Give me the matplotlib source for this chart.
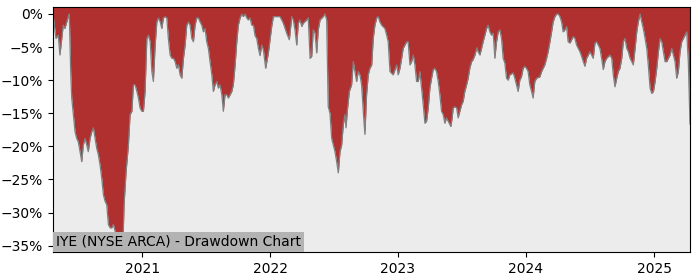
import matplotlib
matplotlib.use("Agg")
import matplotlib.pyplot as plt
import matplotlib.dates as mdates
import matplotlib.ticker as mticker
import pandas as pd

# drawdown: time as decimal year, value in percent
t_year = [
    2020.305, 2020.328, 2020.346, 2020.359, 2020.385, 2020.398, 2020.424, 2020.432,
    2020.443, 2020.451, 2020.477, 2020.490, 2020.502, 2020.516, 2020.529, 2020.541,
    2020.555, 2020.568, 2020.580, 2020.594, 2020.607, 2020.620, 2020.633, 2020.646,
    2020.659, 2020.672, 2020.685, 2020.698, 2020.711, 2020.724, 2020.737, 2020.750,
    2020.763, 2020.776, 2020.789, 2020.802, 2020.815, 2020.828, 2020.841, 2020.849,
    2020.859, 2020.875, 2020.893, 2020.906, 2020.920, 2020.932, 2020.945, 2020.959,
    2020.971, 2020.984, 2020.998, 2021.010, 2021.023, 2021.037, 2021.049, 2021.063,
    2021.076, 2021.088, 2021.102, 2021.115, 2021.127, 2021.141, 2021.154, 2021.166,
    2021.180, 2021.193, 2021.205, 2021.219, 2021.232, 2021.245, 2021.258, 2021.271,
    2021.284, 2021.297, 2021.310, 2021.323, 2021.336, 2021.349, 2021.362, 2021.375,
    2021.388, 2021.401, 2021.414, 2021.427, 2021.440, 2021.453, 2021.466, 2021.479,
    2021.492, 2021.505, 2021.518, 2021.531, 2021.545, 2021.557, 2021.570, 2021.584,
    2021.596, 2021.609, 2021.623, 2021.635, 2021.648, 2021.662, 2021.674, 2021.688,
    2021.701, 2021.713, 2021.727, 2021.740, 2021.752, 2021.766, 2021.779, 2021.791,
    2021.805, 2021.818, 2021.830, 2021.844, 2021.857, 2021.870, 2021.883, 2021.896,
    2021.909, 2021.922, 2021.935, 2021.948, 2021.966, 2021.987, 2022.013, 2022.026,
    2022.052, 2022.078, 2022.104, 2022.130, 2022.151, 2022.170, 2022.182, 2022.195,
    2022.209, 2022.221, 2022.234, 2022.248, 2022.260, 2022.287, 2022.299, 2022.313,
    2022.326, 2022.338, 2022.352, 2022.365, 2022.377, 2022.391, 2022.416, 2022.430,
    2022.443, 2022.455, 2022.469, 2022.482, 2022.495, 2022.508, 2022.521, 2022.534,
    2022.547, 2022.560, 2022.573, 2022.586, 2022.594, 2022.604, 2022.620, 2022.638,
    2022.651, 2022.664, 2022.677, 2022.690, 2022.703, 2022.716, 2022.729, 2022.742,
    2022.755, 2022.768, 2022.781, 2022.795, 2022.807, 2022.820, 2022.834, 2022.846,
    2022.859, 2022.873, 2022.898, 2022.912, 2022.924, 2022.938, 2022.963, 2022.990,
    2023.002, 2023.016, 2023.029, 2023.041, 2023.068, 2023.080, 2023.094, 2023.107,
    2023.120, 2023.133, 2023.146, 2023.159, 2023.172, 2023.185, 2023.198, 2023.211,
    2023.224, 2023.237, 2023.250, 2023.263, 2023.276, 2023.289, 2023.302, 2023.315,
    2023.328, 2023.341, 2023.354, 2023.367, 2023.380, 2023.393, 2023.414, 2023.424,
    2023.432, 2023.445, 2023.459, 2023.471, 2023.484, 2023.498, 2023.510, 2023.523,
    2023.537, 2023.549, 2023.563, 2023.576, 2023.588, 2023.602, 2023.617, 2023.627,
    2023.641, 2023.654, 2023.666, 2023.680, 2023.693, 2023.705, 2023.719, 2023.732,
    2023.745, 2023.758, 2023.771, 2023.784, 2023.797, 2023.810, 2023.823, 2023.836,
    2023.849, 2023.862, 2023.875, 2023.901, 2023.914, 2023.927, 2023.940, 2023.953,
    2023.966, 2023.979, 2023.992, 2024.005, 2024.018, 2024.031, 2024.045, 2024.057,
    2024.070, 2024.084, 2024.109, 2024.123, 2024.135, 2024.148, 2024.162, 2024.174,
    2024.188, 2024.201, 2024.213, 2024.227, 2024.240, 2024.252, 2024.266, 2024.279,
    2024.291, 2024.305, 2024.318, 2024.330, 2024.344, 2024.357, 2024.370, 2024.383,
    2024.396, 2024.409, 2024.422, 2024.435, 2024.448, 2024.461, 2024.474, 2024.487,
    2024.500, 2024.513, 2024.526, 2024.539, 2024.552, 2024.565, 2024.578, 2024.591,
    2024.604, 2024.617, 2024.630, 2024.656, 2024.670, 2024.682, 2024.695, 2024.709,
    2024.721, 2024.734, 2024.748, 2024.760, 2024.773, 2024.787, 2024.799, 2024.813,
    2024.826, 2024.838, 2024.852, 2024.865, 2024.877, 2024.891, 2024.904, 2024.916,
    2024.930, 2024.943, 2024.955, 2024.969, 2024.982, 2024.995, 2025.008, 2025.021,
    2025.034, 2025.047, 2025.060, 2025.073, 2025.086, 2025.099, 2025.112, 2025.125,
    2025.138, 2025.151, 2025.164, 2025.177, 2025.190, 2025.203, 2025.216, 2025.229,
    2025.242, 2025.255, 2025.268, 2025.281,
]
drawdown = [
    0.0, -3.7, -3.2, -6.2, -1.7, -2.2, -0.4, 0.0,
    -8.7, -12.7, -17.8, -18.8, -19.3, -20.8, -22.3, -19.8,
    -18.8, -19.8, -20.8, -18.8, -17.8, -17.2, -18.8, -20.3,
    -21.3, -22.8, -24.8, -27.3, -28.3, -28.8, -31.8, -32.3,
    -32.3, -31.8, -32.8, -33.3, -33.8, -33.8, -34.8, -35.9,
    -28.8, -23.8, -19.8, -15.2, -14.7, -10.7, -10.7, -11.7,
    -12.7, -14.2, -14.7, -14.7, -11.7, -3.7, -3.2, -4.2,
    -8.7, -10.2, -4.7, -1.2, -0.6, -1.2, -2.2, -0.6,
    -0.4, -0.6, -3.7, -6.2, -6.7, -6.7, -7.2, -8.2,
    -7.7, -9.2, -9.7, -6.7, -4.7, -1.7, -1.2, -1.7,
    -3.7, -4.2, -1.7, -0.6, -0.6, -1.2, -1.7, -2.7,
    -2.2, -4.2, -5.2, -7.2, -9.2, -11.7, -10.7, -10.2,
    -11.2, -10.7, -12.2, -14.7, -12.2, -12.2, -12.7, -12.2,
    -11.7, -10.7, -7.7, -4.2, -1.7, -0.6, 0.0, -0.4,
    0.0, -0.6, -0.9, -0.6, -1.7, -1.7, -3.3, -3.7,
    -5.2, -6.3, -4.7, -5.4, -8.2, -5.9, -1.9, -0.4,
    -0.4, -0.4, -1.4, -2.9, -3.9, -0.4, -0.9, -2.4,
    -4.7, -1.4, -0.9, -1.9, -1.4, -0.9, -0.6, -6.7,
    -6.4, -2.4, -2.9, -5.9, -2.4, -0.9, -0.4, 0.0,
    -0.9, -14.0, -15.0, -18.8, -19.8, -20.8, -22.3, -24.0,
    -20.8, -19.8, -16.7, -15.2, -17.2, -14.7, -11.7, -10.7,
    -7.2, -8.7, -10.2, -8.7, -9.2, -10.7, -14.7, -18.2,
    -12.2, -9.2, -8.2, -7.7, -3.7, -1.7, -0.6, -0.4,
    -1.2, -1.7, -2.2, -3.2, -4.2, -8.7, -9.2, -7.7,
    -9.2, -8.2, -6.7, -5.2, -4.2, -4.2, -7.7, -7.2,
    -6.2, -7.7, -10.2, -10.2, -8.7, -11.2, -13.7, -16.5,
    -16.2, -14.2, -11.2, -9.7, -8.4, -8.2, -8.7, -10.2,
    -12.2, -14.7, -15.2, -16.5, -15.7, -16.2, -17.0, -15.7,
    -14.2, -14.0, -14.2, -15.7, -14.7, -13.7, -13.2, -11.7,
    -10.7, -9.7, -8.1, -7.2, -6.9, -6.2, -5.1, -5.7,
    -6.2, -5.2, -4.2, -3.2, -2.2, -1.7, -2.7, -3.2,
    -2.9, -6.7, -4.2, -2.7, -2.4, -3.7, -6.7, -7.4,
    -9.7, -10.0, -9.2, -8.9, -9.7, -10.7, -11.7, -10.0,
    -9.5, -8.2, -7.9, -8.2, -8.7, -10.7, -11.7, -12.7,
    -10.2, -9.7, -9.5, -8.7, -8.2, -7.7, -6.7, -5.7,
    -4.2, -2.7, -1.2, -0.4, 0.0, 0.0, -0.4, -1.2,
    -2.7, -2.4, -1.9, -4.2, -4.4, -3.9, -3.4, -3.7,
    -4.7, -5.2, -5.7, -6.4, -7.2, -7.9, -6.7, -6.2,
    -5.7, -6.2, -6.7, -4.4, -4.2, -4.7, -5.2, -6.7,
    -8.4, -7.2, -6.7, -6.2, -6.7, -9.2, -11.0, -9.7,
    -8.7, -8.2, -6.7, -4.2, -3.7, -5.2, -5.7, -6.7,
    -7.2, -7.7, -5.2, -2.7, -1.2, 0.0, -1.2, -2.2,
    -3.7, -5.2, -7.7, -11.2, -12.0, -11.7, -10.2, -8.2,
    -5.7, -3.7, -4.2, -5.7, -7.2, -7.2, -6.7, -6.2,
    -5.2, -6.2, -7.2, -9.7, -8.7, -5.7, -4.2, -3.7,
    -3.2, -2.7, -7.2, -16.6,
]
title = "IYE (NYSE ARCA) - Drawdown Chart"


def to_date(y):
    start = pd.Timestamp(int(y), 1, 1)
    end = pd.Timestamp(int(y) + 1, 1, 1)
    return start + (end - start) * (y - int(y))


dates = [to_date(y) for y in t_year]

fig = plt.figure(figsize=(7, 2.8), dpi=100)
ax = fig.add_axes([0.0757, 0.1, 0.91, 0.875])
ax.set_facecolor('#ececec')

top = 1.05
ax.fill_between(dates, drawdown, top, color='#b02f2f', lw=0)
ax.plot(dates, drawdown, color='#808080', lw=0.9)

ax.set_xlim(dates[0], dates[-1])
ax.set_ylim(-35.95, top)
ax.set_yticks(range(-35, 1, 5))
ax.yaxis.set_major_formatter(mticker.PercentFormatter(decimals=0))
ax.xaxis.set_major_locator(mdates.YearLocator())
ax.xaxis.set_major_formatter(mdates.DateFormatter('%Y'))
ax.tick_params(labelsize=10)

ax.text(0.005, 0.013, title, transform=ax.transAxes, fontsize=10,
        ha='left', va='bottom', zorder=5,
        bbox=dict(boxstyle='square,pad=0.2', fc='#b3b3b3', ec='none'))

fig.savefig('out.png', dpi=100)
